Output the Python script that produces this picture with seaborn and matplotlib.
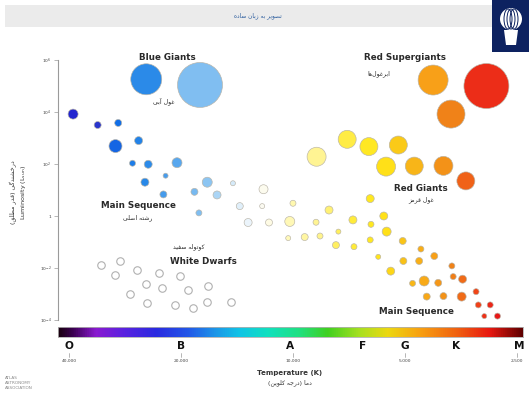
import numpy as np
import pandas as pd
import matplotlib
matplotlib.use("Agg")
import matplotlib.pyplot as plt
import seaborn as sns
from matplotlib.colors import LinearSegmentedColormap
from matplotlib.patches import Rectangle, Circle, Ellipse, Polygon
from matplotlib.lines import Line2D
import matplotlib.transforms as mtrans

# ---------------- data ----------------
# main sequence: temperature (K), log10 luminosity (L/Lsun), apparent diameter
ms_temp = [39000, 33500, 29500, 30000, 26000, 27000, 24500, 20500, 22000, 25000,
           22300, 17000, 18400, 16000, 14500, 17900, 13900, 12000, 12100, 13200,
           11600, 10200, 10000, 10300, 9300, 8460, 8000, 8670, 7550, 6900,
           7665, 6855, 6200, 6170, 5700, 5600, 6200, 5070, 5900, 5460,
           4530, 5050, 4580, 4170, 4770, 4440, 4070, 3740, 3710, 3500,
           4370, 3940, 3520, 3220, 3175, 2950, 3060, 2820]
ms_lum = [3.92, 3.50, 3.58, 2.69, 2.90, 2.03, 1.99, 2.05, 1.55, 1.30,
          0.83, 1.30, 0.93, 0.81, 1.26, 0.12, 0.38, 1.03, 0.38, -0.25,
          -0.25, -0.21, 0.49, -0.85, -0.81, -0.77, 0.23, -0.24, -0.60, -0.15,
          -1.12, -1.18, 0.67, -0.32, 0.00, -0.60, -0.92, -0.96, -1.57, -2.12,
          -1.27, -1.73, -1.73, -1.54, -2.59, -2.50, -2.57, -1.92, -2.33, -2.43,
          -3.10, -3.08, -3.10, -2.91, -3.42, -3.42, -3.85, -3.85]
ms_diam = [10, 7, 7, 13, 8, 6, 8, 10, 5, 8,
           7, 10, 7, 8, 5, 6, 7, 9, 5, 8,
           7, 10, 6, 5, 7, 6, 8, 6, 5, 8,
           7, 6, 8, 6, 8, 9, 6, 7, 5, 8,
           6, 7, 7, 7, 6, 10, 7, 6, 6, 8,
           7, 7, 9, 6, 6, 6, 5, 6]

giant_temp = [8640, 7150, 6250, 5210, 5620, 4720, 3940, 3430]
giant_lum = [2.28, 2.95, 2.67, 2.73, 1.90, 1.92, 1.93, 1.35]
giant_diam = [19, 18, 18, 18, 19, 18, 19, 18]

superg_temp = [4200, 3020, 3760]
superg_lum = [5.23, 5.00, 3.92]
superg_diam = [30, 45, 28]

blueg_temp = [24800, 17780]
blueg_lum = [5.26, 5.04]
blueg_diam = [31, 45]

wd_temp = [32820, 29170, 30090, 26310, 22930, 20120, 24840, 22540, 19110, 16890,
           27420, 24730, 20760, 18530, 17060, 14680]
wd_lum = [-1.88, -1.72, -2.27, -2.08, -2.20, -2.31, -2.63, -2.78, -2.85, -2.69,
          -3.00, -3.33, -3.42, -3.55, -3.30, -3.32]

spectral_classes = ["O", "B", "A", "F", "G", "K", "M"]
spectral_temp = [40000, 20000, 10200, 6500, 5000, 3650, 2470]
temp_ticks = [40000, 20000, 10000, 5000, 2500]
temp_labels = ["40,000", "20,000", "10,000", "5,000", "2,500"]
lum_ticks = [6, 4, 2, 0, -2, -4]
lum_labels = ["$10^{6}$", "$10^{4}$", "$10^{2}$", "1", "$10^{-2}$", "$10^{-4}$"]

# ---------------- Persian shaping helper ----------------
FORMS = {
    '\u0627': ('\uFE8D', '\uFE8E', None, None),
    '\u0622': ('\uFE81', '\uFE82', None, None),
    '\u0628': ('\uFE8F', '\uFE90', '\uFE91', '\uFE92'),
    '\u062A': ('\uFE95', '\uFE96', '\uFE97', '\uFE98'),
    '\u062C': ('\uFE9D', '\uFE9E', '\uFE9F', '\uFEA0'),
    '\u062E': ('\uFEA5', '\uFEA6', '\uFEA7', '\uFEA8'),
    '\u062F': ('\uFEA9', '\uFEAA', None, None),
    '\u0631': ('\uFEAD', '\uFEAE', None, None),
    '\u0632': ('\uFEAF', '\uFEB0', None, None),
    '\u0633': ('\uFEB1', '\uFEB2', '\uFEB3', '\uFEB4'),
    '\u0634': ('\uFEB5', '\uFEB6', '\uFEB7', '\uFEB8'),
    '\u0635': ('\uFEB9', '\uFEBA', '\uFEBB', '\uFEBC'),
    '\u0637': ('\uFEC1', '\uFEC2', '\uFEC3', '\uFEC4'),
    '\u063A': ('\uFECD', '\uFECE', '\uFECF', '\uFED0'),
    '\u0641': ('\uFED1', '\uFED2', '\uFED3', '\uFED4'),
    '\u0642': ('\uFED5', '\uFED6', '\uFED7', '\uFED8'),
    '\u06A9': ('\uFB8E', '\uFB8F', '\uFB90', '\uFB91'),
    '\u06AF': ('\uFB92', '\uFB93', '\uFB94', '\uFB95'),
    '\u0644': ('\uFEDD', '\uFEDE', '\uFEDF', '\uFEE0'),
    '\u0645': ('\uFEE1', '\uFEE2', '\uFEE3', '\uFEE4'),
    '\u0646': ('\uFEE5', '\uFEE6', '\uFEE7', '\uFEE8'),
    '\u0647': ('\uFEE9', '\uFEEA', '\uFEEB', '\uFEEC'),
    '\u0648': ('\uFEED', '\uFEEE', None, None),
    '\u06CC': ('\uFBFC', '\uFBFD', '\uFBFE', '\uFBFF'),
}


def fa(s):
    chars = list(s)
    n = len(chars)

    def dual(c):
        return c in FORMS and FORMS[c][2] is not None

    out = []
    for i, c in enumerate(chars):
        if c not in FORMS:
            out.append(c)
            continue
        prev = chars[i - 1] if i > 0 else None
        nxt = chars[i + 1] if i < n - 1 else None
        jp = prev is not None and dual(prev)
        jn = dual(c) and nxt is not None and nxt in FORMS
        iso, fin, ini, med = FORMS[c]
        out.append(med if (jp and jn) else fin if jp else ini if jn else iso)
    out = [c for c in out if c != '\u200c']
    mirror = {'(': ')', ')': '('}
    return ''.join(mirror.get(c, c) for c in reversed(out))


# ---------------- figure ----------------
sns.set_style("white")
plt.rcParams['font.family'] = ['DejaVu Sans']
W, H = 529, 398
fig = plt.figure(figsize=(W / 100, H / 100), dpi=100)


def fx(px):
    return px / W


def fy(py):
    return 1 - py / H


# header band and logo
fig.patches.append(Rectangle((fx(5), fy(27)), fx(487), 22 / H, transform=fig.transFigure,
                             facecolor="#ebebeb", edgecolor="none", zorder=0))
fig.text(fx(258), fy(16), fa("تصویر به زبان ساده"), fontsize=4.2, color="#2f5f9f",
         ha="center", va="center", family=["DejaVu Sans"])
fig.patches.append(Rectangle((fx(492), fy(52)), fx(37), 52 / H, transform=fig.transFigure,
                             facecolor="#0d2260", edgecolor="none", zorder=1))
fig.patches.append(Ellipse((fx(511), fy(19)), fx(22), 22 / H, transform=fig.transFigure,
                           facecolor="white", edgecolor="none", zorder=2))
for dx in (-5, 0, 5):
    fig.patches.append(Ellipse((fx(511 + dx * 0.6), fy(19)), fx(8), 20 / H, transform=fig.transFigure,
                               facecolor="none", edgecolor="#0d2260", lw=0.7, zorder=3))
fig.patches.append(Polygon([(fx(504), fy(30)), (fx(518), fy(30)), (fx(516), fy(45)), (fx(506), fy(45))],
                           closed=True, transform=fig.transFigure, facecolor="white",
                           edgecolor="none", zorder=2))

# main axes
ax = fig.add_axes([fx(58), fy(322), fx(465), 282 / H])
ax.set_xscale("log")
ax.set_xlim(42820, 2408)
ax.set_ylim(-4.077, 6.77)
ax.patch.set_alpha(0)

rows = []
for grp, T, L, D in [("ms", ms_temp, ms_lum, ms_diam), ("giant", giant_temp, giant_lum, giant_diam),
                     ("superg", superg_temp, superg_lum, superg_diam),
                     ("blueg", blueg_temp, blueg_lum, blueg_diam)]:
    for t, l, d in zip(T, L, D):
        rows.append(dict(group=grp, temp=t, lum=l, diam=d, logT=np.log10(t)))
stars = pd.DataFrame(rows)
stars["s"] = (stars["diam"] * 0.72) ** 2

stops = [(3.40, '#d01010'), (3.45, '#e81818'), (3.50, '#f04018'), (3.54, '#f06818'),
         (3.58, '#f08818'), (3.62, '#f8a018'), (3.66, '#f8b018'), (3.70, '#f8c018'),
         (3.75, '#ffe018'), (3.79, '#ffe820'), (3.85, '#ffec40'), (3.93, '#fff490'),
         (4.00, '#fff8b0'), (4.06, '#fffbe0'), (4.10, '#f8fafc'), (4.17, '#d0e8f8'),
         (4.23, '#8ec6f2'), (4.31, '#5aa8ee'), (4.40, '#2888e8'), (4.47, '#1070e8'),
         (4.53, '#2a34cc'), (4.62, '#2020d0')]
lo, hi = stops[0][0], stops[-1][0]
star_cmap = LinearSegmentedColormap.from_list("star", [((v - lo) / (hi - lo), c) for v, c in stops])

sns.scatterplot(data=stars, x="temp", y="lum", hue="logT", palette=star_cmap, hue_norm=(lo, hi),
                s=stars["s"].values, edgecolor="#b9b4a8", linewidth=0.45, legend=False, ax=ax,
                zorder=3, clip_on=False)

wd = pd.DataFrame(dict(temp=wd_temp, lum=wd_lum))
sns.scatterplot(data=wd, x="temp", y="lum", s=(7.5 * 0.72) ** 2, facecolor="white",
                edgecolor="#b0b0b0", linewidth=0.8, legend=False, ax=ax, zorder=3)

# axes styling
for side in ("top", "right", "bottom"):
    ax.spines[side].set_visible(False)
ax.spines["left"].set_color("#9a9a9a")
ax.spines["left"].set_linewidth(0.8)
ax.spines["left"].set_bounds(-4, 6)
ax.set_xticks([])
ax.minorticks_off()
ax.xaxis.set_minor_locator(matplotlib.ticker.NullLocator())
ax.set_yticks(lum_ticks)
ax.set_yticklabels(lum_labels)
ax.tick_params(axis="y", length=3, width=0.5, color="#9a9a9a", labelsize=3.2,
               labelcolor="#444444", pad=1.5, left=True)
ax.set_xlabel("")
ax.set_ylabel("")

# y label (two lines, rotated)
fig.text(fx(13), fy(192), fa("درخشندگی (قدر مطلق)"), rotation=90, fontsize=4.6,
         ha="center", va="center", color="#333333", family=["DejaVu Sans"])
fig.text(fx(23), fy(192), "Luminosity (L$_{\\mathrm{sun}}$)", rotation=90, fontsize=4.6,
         ha="center", va="center", color="#333333")

# group annotations
lab = dict(fontsize=6.3, fontweight="bold", color="#2a2a2a", ha="center", va="center")
sub = dict(fontsize=4.4, color="#2a2a2a", ha="center", va="center", family=["DejaVu Sans"])
fig.text(fx(167), fy(57), "Blue Giants", **lab)
fig.text(fx(164), fy(101), fa("غول آبی"), **sub)
fig.text(fx(405), fy(57), "Red Supergiants", **lab)
fig.text(fx(379), fy(74), fa("ابرغول\u200cها"), **sub)
fig.text(fx(421), fy(188), "Red Giants", **lab)
fig.text(fx(421), fy(200), fa("غول قرمز"), **sub)
fig.text(fx(138), fy(206), "Main Sequence", **lab)
fig.text(fx(138), fy(218), fa("رشته اصلی"), **sub)
fig.text(fx(203), fy(262), "White Dwarfs", **lab)
fig.text(fx(189), fy(247), fa("کوتوله سفید"), **sub)
fig.text(fx(416), fy(312), "Main Sequence", **lab)

# colour bar of spectral temperatures
cax = fig.add_axes([fx(58), fy(337), fx(465), 10 / H])
bar_stops = [(0.0, '#1a0010'), (0.03, '#3a0050'), (0.08, '#8a1ad0'), (0.14, '#5a22e0'),
             (0.21, '#2a2ae0'), (0.28, '#2258e8'), (0.34, '#1c98e8'), (0.39, '#10c4e6'),
             (0.45, '#10e0c0'), (0.52, '#20e080'), (0.58, '#40d020'), (0.65, '#a8e020'),
             (0.71, '#ecd810'), (0.78, '#f8a010'), (0.86, '#f06010'), (0.93, '#e81810'),
             (1.0, '#600000')]
bar_cmap = LinearSegmentedColormap.from_list("bar", bar_stops)
cax.imshow(np.linspace(0, 1, 512)[None, :], aspect="auto", cmap=bar_cmap, extent=(0, 1, 0, 1))
cax.set_xticks([])
cax.set_yticks([])
for sp in cax.spines.values():
    sp.set_color("#b0b0b0")
    sp.set_linewidth(0.6)

blend = mtrans.blended_transform_factory(ax.transData, fig.transFigure)
for letter, t in zip(spectral_classes, spectral_temp):
    fig.text(t, fy(346), letter, transform=blend, fontsize=7.6, fontweight="bold",
             ha="center", va="center", color="#111111")
for t, lbl in zip(temp_ticks, temp_labels):
    fig.add_artist(Line2D([t, t], [fy(353), fy(357)], transform=blend, color="#999999", lw=0.5))
    fig.text(t, fy(361), lbl, transform=blend, fontsize=3.2, ha="center", va="center",
             color="#444444")

fig.text(fx(290), fy(373), "Temperature (K)", fontsize=5.0, fontweight="bold",
         ha="center", va="center", color="#333333")
fig.text(fx(290), fy(383), fa("دما (درجه کلوین)"), fontsize=4.4, ha="center", va="center",
         color="#333333", family=["DejaVu Sans"])

fig.text(fx(5), fy(376), "ATLAS\nASTRONOMY\nASSOCIATION", fontsize=3.0, ha="left", va="top",
         color="#888888", linespacing=1.3)

fig.savefig("out.png", dpi=100)
